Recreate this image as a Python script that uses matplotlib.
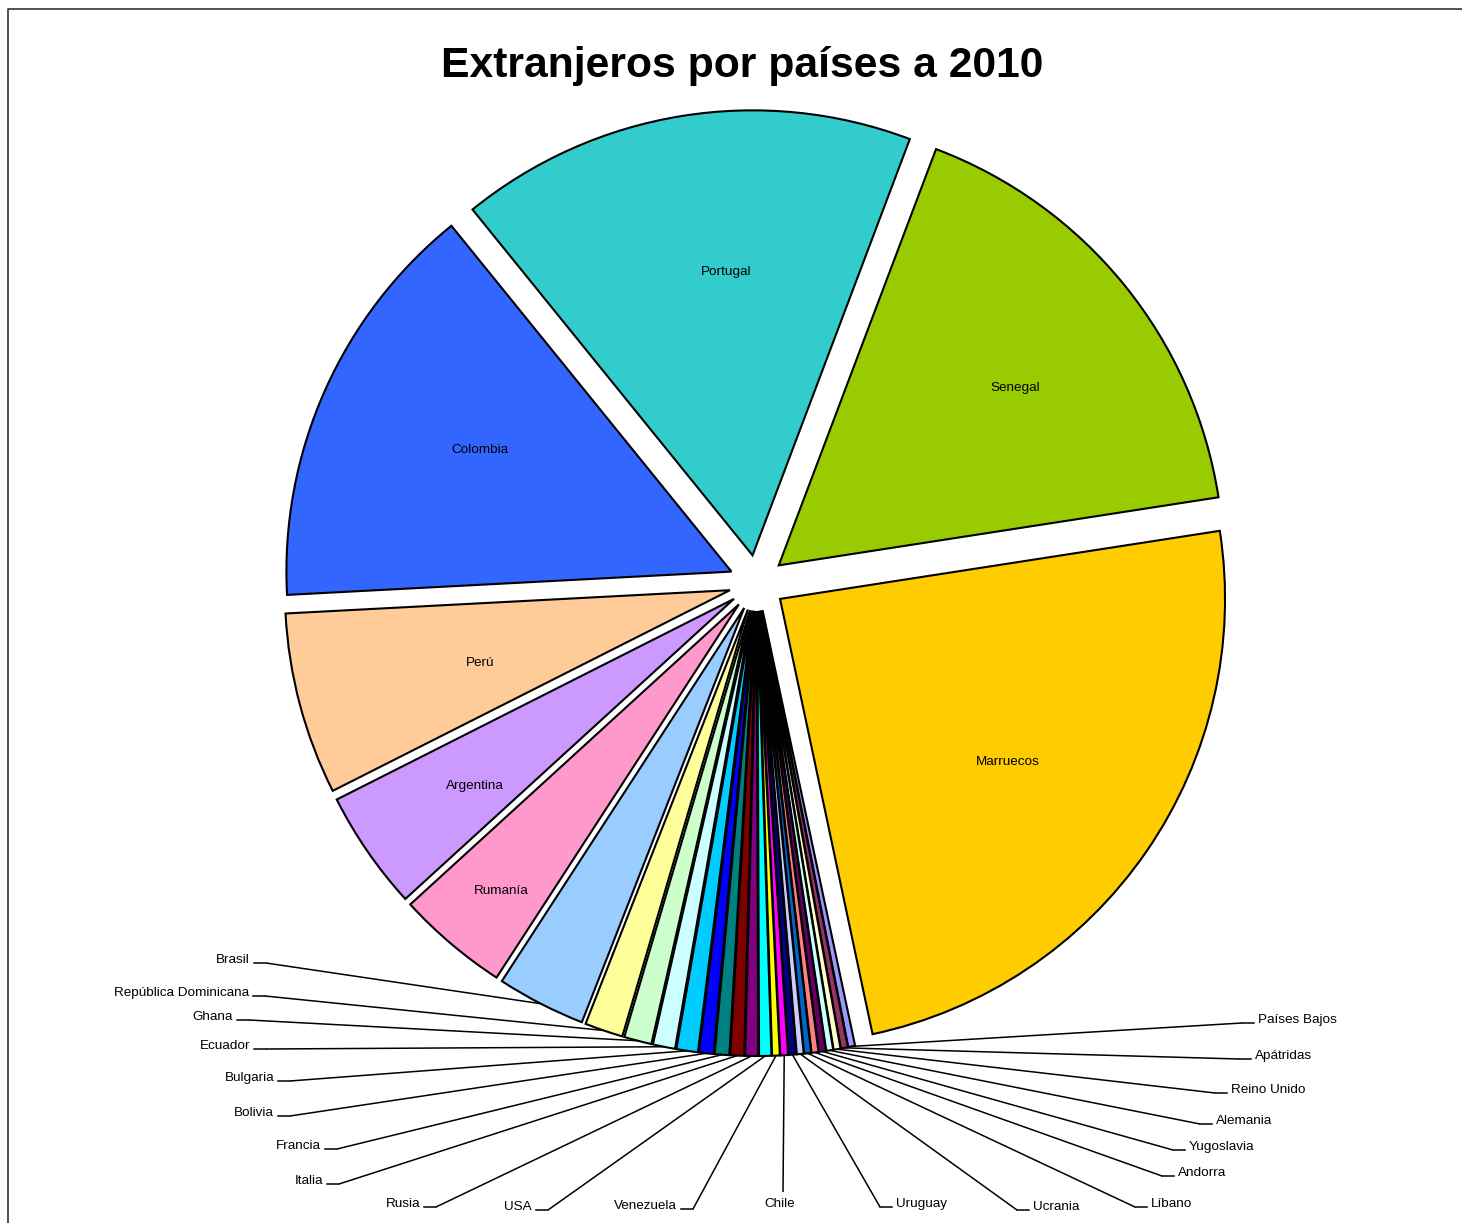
import numpy as np
import matplotlib
matplotlib.use("Agg")
import matplotlib.pyplot as plt

plt.rcParams['font.family'] = ['Liberation Sans', 'DejaVu Sans']

# data, in clockwise order starting at the first slice (Excel-like, ascending)
paises = ["Países Bajos", "Apátridas", "Reino Unido", "Alemania", "Yugoslavia",
          "Andorra", "Líbano", "Ucrania", "Uruguay", "Chile", "Venezuela",
          "USA", "Rusia", "Italia", "Francia", "Bolivia", "Bulgaria",
          "Ecuador", "Ghana", "República Dominicana", "Brasil", "Rumanía",
          "Argentina", "Perú", "Colombia", "Portugal", "Senegal", "Marruecos"]
valores = [9, 9, 9, 9, 9, 9, 9, 9, 10, 10, 10,
           16, 17, 18, 19, 19, 28,
           29, 36, 50, 116, 146,
           156, 238, 540, 597, 605, 868]
colores = ["#9999FF", "#993366", "#FFFFCC", "#CCFFFF", "#660066",
           "#FF8080", "#0066CC", "#CCCCFF", "#000080", "#FF00FF", "#FFFF00",
           "#00FFFF", "#800080", "#800000", "#008080", "#0000FF", "#00CCFF",
           "#CCFFFF", "#CCFFCC", "#FFFF99", "#99CCFF", "#FF99CC",
           "#CC99FF", "#FFCC99", "#3366FF", "#33CCCC", "#99CC00", "#FFCC00"]

# big slices get their label inside (pixel coords, y down)
internos = {
    "Rumanía": (501, 891), "Argentina": (475, 786), "Perú": (480, 663),
    "Colombia": (480, 450), "Portugal": (726, 272), "Senegal": (1015, 388),
    "Marruecos": (1008, 762),
}

# leader-line elbows for the small slices (pixel coords, y down), side
codos = {
    "Brasil": (266, 963, 'L'), "República Dominicana": (265, 996, 'L'),
    "Ghana": (249, 1020, 'L'), "Ecuador": (266, 1049, 'L'),
    "Bulgaria": (290, 1081, 'L'), "Bolivia": (290, 1116, 'L'),
    "Francia": (337, 1149, 'L'), "Italia": (339, 1184, 'L'),
    "Rusia": (436, 1207, 'L'), "USA": (548, 1210, 'L'),
    "Venezuela": (693, 1209, 'L'), "Chile": (783, 1192, 'C'),
    "Uruguay": (880, 1207, 'R'), "Ucrania": (1017, 1210, 'R'),
    "Líbano": (1135, 1207, 'R'), "Andorra": (1162, 1176, 'R'),
    "Yugoslavia": (1173, 1150, 'R'), "Alemania": (1200, 1124, 'R'),
    "Reino Unido": (1215, 1093, 'R'), "Apátridas": (1239, 1059, 'R'),
    "Países Bajos": (1242, 1023, 'R'),
}

W, H = 1462, 1223
CX, CY, R, EXPL = 757, 583, 445, 28
FS = 9.7

fig = plt.figure(figsize=(W / 100, H / 100), dpi=100)
ax = fig.add_axes([0, 0, 1, 1])

wedges, _ = ax.pie(valores, colors=colores, startangle=282, counterclock=False,
                   radius=R, center=(CX, H - CY), explode=[EXPL] * len(valores),
                   wedgeprops=dict(edgecolor='black', linewidth=1.5))

for w, nombre in zip(wedges, paises):
    if nombre in internos:
        lx, ly = internos[nombre]
        ax.text(lx, H - ly, nombre, ha='center', va='center', fontsize=FS,
                color='black')
        continue
    m = np.deg2rad(0.5 * (w.theta1 + w.theta2))
    cx, cy = w.center
    px, py = cx + R * np.cos(m), cy + R * np.sin(m)
    ex, ey, lado = codos[nombre]
    ey = H - ey
    ax.plot([px, ex], [py, ey], color='black', lw=1.1, solid_capstyle='butt')
    if lado == 'L':
        ax.plot([ex - 12, ex], [ey, ey], color='black', lw=1.1)
        ax.text(ex - 16, ey + 3, nombre, ha='right', va='center', fontsize=FS)
    elif lado == 'R':
        ax.plot([ex, ex + 12], [ey, ey], color='black', lw=1.1)
        ax.text(ex + 16, ey + 3, nombre, ha='left', va='center', fontsize=FS)
    else:
        ax.text(ex - 3, ey - 12, nombre, ha='center', va='center', fontsize=FS)

ax.text(742, H - 66, "Extranjeros por países a 2010", ha='center', va='center',
        fontsize=30.7, fontweight='bold')

# chart area border (only top and left visible)
ax.plot([8, 8, W + 5], [-5, H - 9, H - 9], color='#333333', lw=1.2)

ax.set_xlim(0, W)
ax.set_ylim(0, H)
ax.set_aspect('equal')
ax.axis('off')

fig.savefig("out.png", dpi=100)
